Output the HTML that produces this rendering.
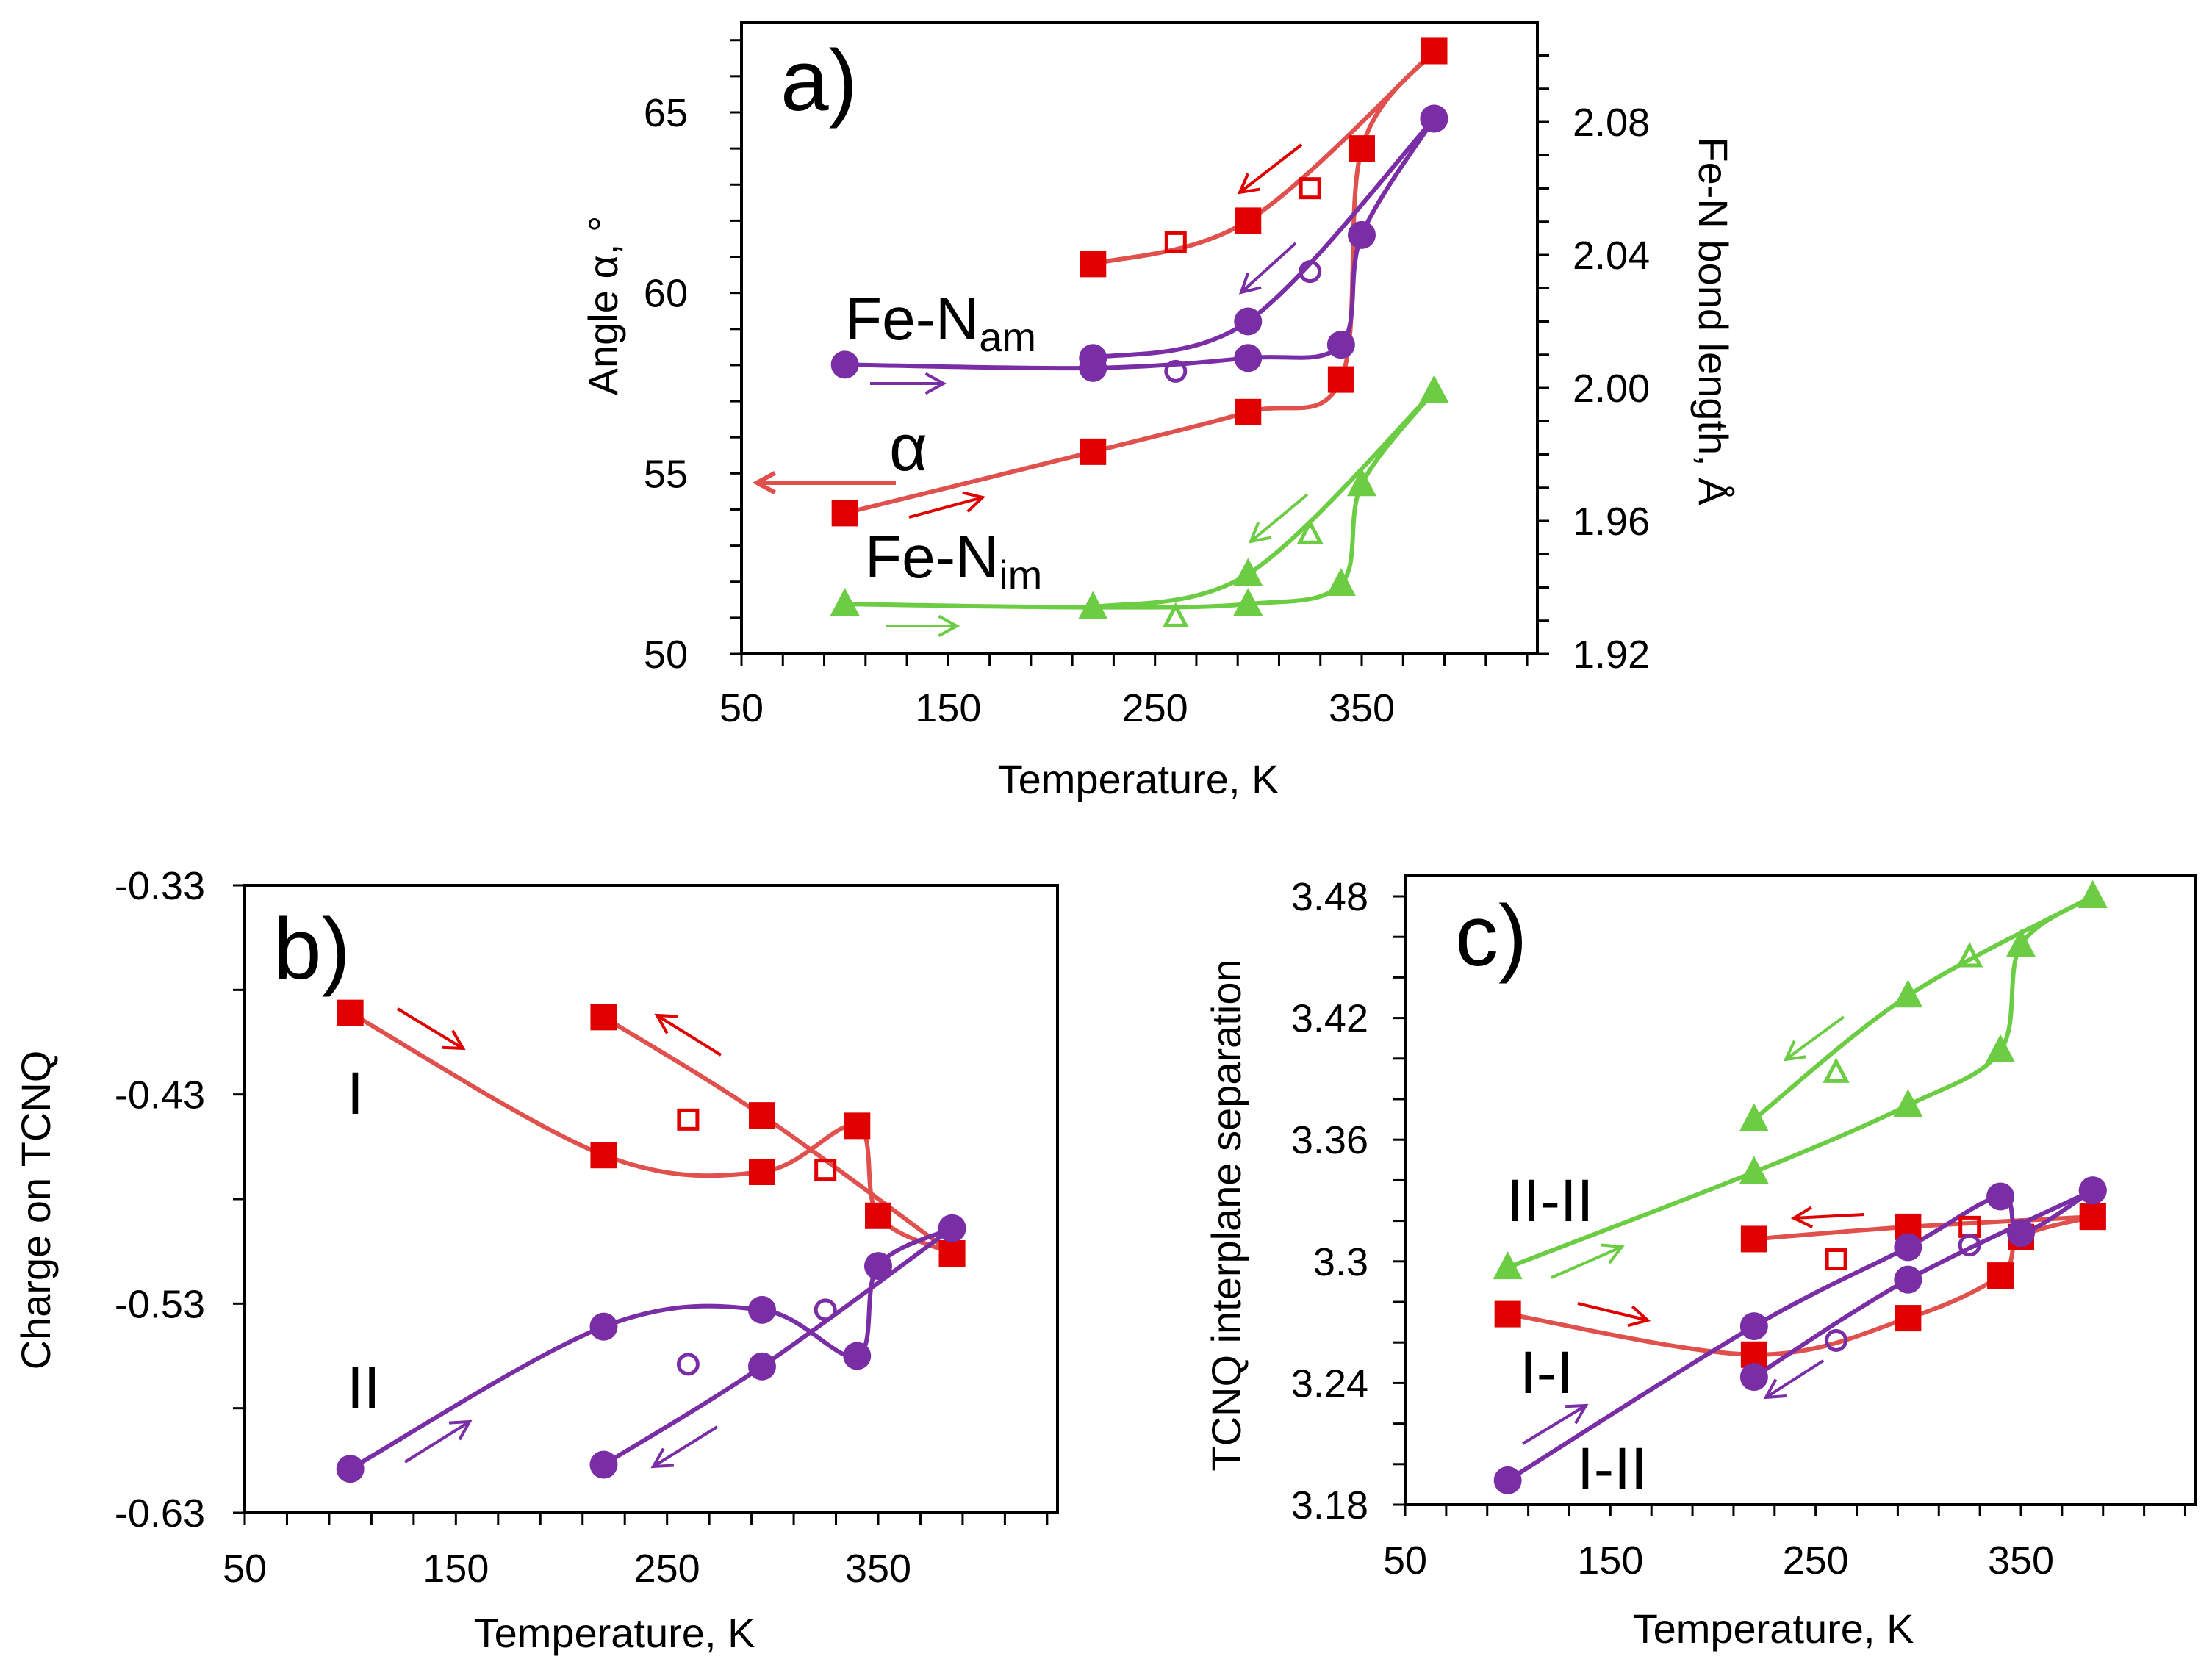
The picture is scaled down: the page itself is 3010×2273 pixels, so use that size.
<!DOCTYPE html>
<html><head><meta charset="utf-8">
<style>
html,body{margin:0;padding:0;background:#fff;}
svg{display:block;font-family:"Liberation Sans",Arial,sans-serif;}
</style></head>
<body>
<svg id="fig" width="3010" height="2273" viewBox="0 0 3010 2273" xmlns="http://www.w3.org/2000/svg">
</svg>
<script>
// ---------- Panel a data ----------
const aT_heat = [100, 220, 295, 340, 350, 385];
const aT_cool = [385, 295, 220];
const aT_open = [260, 325];
const alphaHeat = [53.9, 55.6, 56.7, 57.6, 64.0, 66.7];
const alphaCool = [66.7, 62.0, 60.8];
const alphaOpen = [61.4, 62.9];
const amHeat = [2.007, 2.006, 2.009, 2.013, 2.046, 2.081];
const amCool = [2.081, 2.020, 2.009];
const amOpen = [2.005, 2.035];
const imHeat = [1.935, 1.934, 1.935, 1.941, 1.971, 1.999];
const imCool = [1.999, 1.944, 1.934];
const imOpen = [1.931, 1.956];
const aLeftTicks = [50, 55, 60, 65];
const aRightTicks = [1.92, 1.96, 2.00, 2.04, 2.08];
const xTicks = [50, 150, 250, 350];

// ---------- Panel b data ----------
const bT_heat = [100, 220, 295, 340, 350, 385];
const bT_cool = [385, 295, 220];
const bT_open = [260, 325];
const bIHeat = [-0.391, -0.459, -0.467, -0.445, -0.488, -0.506];
const bICool = [-0.506, -0.440, -0.393];
const bIOpen = [-0.442, -0.466];
const bIIHeat = [-0.609, -0.541, -0.533, -0.555, -0.512, -0.494];
const bIICool = [-0.494, -0.560, -0.607];
const bIIOpen = [-0.559, -0.533];
const bTicks = [-0.33, -0.43, -0.53, -0.63];

// ---------- Panel c data ----------
const cT_heat = [100, 220, 295, 340, 350, 385];
const cT_cool = [385, 295, 220];
const cT_open = [260, 325];
const cGHeat = [3.297, 3.344, 3.377, 3.404, 3.456, 3.48];
const cGCool = [3.48, 3.431, 3.370];
const cGOpen = [3.393, 3.450];
const cRHeat = [3.274, 3.254, 3.272, 3.293, 3.312, 3.322];
const cRCool = [3.322, 3.317, 3.311];
const cROpen = [3.301, 3.317];
const cPHeat = [3.192, 3.268, 3.307, 3.332, 3.314, 3.335];
const cPCool = [3.335, 3.291, 3.243];
const cPOpen = [3.261, 3.308];
const cTicks = [3.18, 3.24, 3.30, 3.36, 3.42, 3.48];
const cTickLabels = ["3.18", "3.24", "3.3", "3.36", "3.42", "3.48"];

const NS = "http://www.w3.org/2000/svg";
const svg = document.getElementById('fig');
const RED = "#e00000", REDL = "#e0504c", PUR = "#7a2ea6", GRN = "#6ccd45";
const TICKF = 54, TITLEF = 56, LABF = 82, PANF = 118;

function mk(tag, attrs, parent) {
  const e = document.createElementNS(NS, tag);
  for (const k in attrs) e.setAttribute(k, attrs[k]);
  (parent || svg).appendChild(e);
  return e;
}
function lin(d0, d1, p0, p1) { return v => p0 + (v - d0) / (d1 - d0) * (p1 - p0); }

function smooth(pts) {
  let d = "M" + pts[0][0] + "," + pts[0][1];
  for (let i = 0; i < pts.length - 1; i++) {
    const p0 = pts[i - 1] || pts[i], p1 = pts[i], p2 = pts[i + 1], p3 = pts[i + 2] || p2;
    const t = 6;
    const c1 = [p1[0] + (p2[0] - p0[0]) / t, p1[1] + (p2[1] - p0[1]) / t];
    const c2 = [p2[0] - (p3[0] - p1[0]) / t, p2[1] - (p3[1] - p1[1]) / t];
    d += " C" + c1[0] + "," + c1[1] + " " + c2[0] + "," + c2[1] + " " + p2[0] + "," + p2[1];
  }
  return d;
}
function curve(g, xs, ys, X, Y, color, name) {
  const p = mk('path', {d: smooth(xs.map((x, i) => [X(x), Y(ys[i])])), fill: 'none', stroke: color, 'stroke-width': 6}, g);
  
  
}
function markers(g, xs, ys, X, Y, shape, color, open, name) {
  xs.forEach((x, i) => {
    const cx = X(x), cy = Y(ys[i]);
    let e;
    const fill = open ? 'none' : color, sw = open ? 5 : 0;
    if (shape === 'sq') { const s = open ? 25 : 36; e = mk('rect', {x: cx - s / 2, y: cy - s / 2, width: s, height: s, fill: fill, stroke: color, 'stroke-width': sw}, g); }
    else if (shape === 'ci') { const r = open ? 13 : 19; e = mk('circle', {cx: cx, cy: cy, r: r, fill: fill, stroke: color, 'stroke-width': sw}, g); }
    else { const s = open ? 14 : 20; e = mk('polygon', {points: `${cx},${cy - s * 1.1} ${cx + s},${cy + s * 0.8} ${cx - s},${cy + s * 0.8}`, fill: fill, stroke: color, 'stroke-width': sw}, g); }
    
    
  });
}
function arrow(g, x1, y1, x2, y2, color, name, w) {
  w = w || 4;
  const a = Math.atan2(y2 - y1, x2 - x1), L = 28;
  const d = `M${x1},${y1} L${x2},${y2} M${x2 - L * Math.cos(a - 0.5)},${y2 - L * Math.sin(a - 0.5)} L${x2},${y2} L${x2 - L * Math.cos(a + 0.5)},${y2 - L * Math.sin(a + 0.5)}`;
  const e = mk('path', {d: d, fill: 'none', stroke: color, 'stroke-width': w}, g);
  
  
}
function text(g, x, y, s, size, anchor, name, extra) {
  const e = mk('text', Object.assign({x: x, y: y, 'font-size': size, 'text-anchor': anchor || 'start', fill: '#000'}, extra || {}), g);
  e.textContent = s;
  
  
  return e;
}
function frame(g, L, T, R, B) {
  const e = mk('rect', {x: L, y: T, width: R - L, height: B - T, fill: 'none', stroke: '#000', 'stroke-width': 4}, g);
  
  
}
function xAxis(g, X, B, labY, titleX, titleY) {
  for (let v = 50; v <= 430; v += 20) mk('line', {x1: X(v), y1: B, x2: X(v), y2: B + 16, stroke: '#000', 'stroke-width': 3}, g);
  xTicks.forEach(v => text(g, X(v), labY, String(v), TICKF, 'middle', 'x-tick-label'));
  text(g, titleX, titleY, 'Temperature, K', TITLEF, 'middle', 'x-axis-title');
}

// ===== Panel a =====
(function () {
  const g = mk('g', {});  
  const L = 1009, R = 2092, T = 30, B = 890;
  const X = lin(50, 350, 1009, 1853);
  const Y = lin(50, 65, 890, 153);
  const Y2 = lin(1.92, 2.08, 890, 166);
  frame(g, L, T, R, B);
  for (let v = 50; v <= 67; v += 1) mk('line', {x1: L - 16, y1: Y(v), x2: L, y2: Y(v), stroke: '#000', 'stroke-width': 3}, g);
  for (let v = 1.92; v <= 2.105; v += 0.01) mk('line', {x1: R, y1: Y2(v), x2: R + 16, y2: Y2(v), stroke: '#000', 'stroke-width': 3}, g);
  aLeftTicks.forEach(v => text(g, 936, Y(v) + 19, String(v), TICKF, 'end', 'y-tick-label'));
  aRightTicks.forEach(v => text(g, 2140, Y2(v) + 19, v.toFixed(2), TICKF, 'start', 'y2-tick-label'));
  xAxis(g, X, B, 982, 1549, 1080);
  text(g, 0, 0, 'Angle α, °', TITLEF, 'middle', 'y-axis-title', {transform: 'translate(840,416) rotate(-90)'});
  text(g, 0, 0, 'Fe-N bond length, Å', TITLEF, 'middle', 'y2-axis-title', {transform: 'translate(2312,437) rotate(90)'});

  curve(g, aT_heat, alphaHeat, X, Y, REDL, 'alpha-heating-curve');
  curve(g, aT_cool, alphaCool, X, Y, REDL, 'alpha-cooling-curve');
  curve(g, aT_heat, amHeat, X, Y2, PUR, 'fe-nam-heating-curve');
  curve(g, aT_cool, amCool, X, Y2, PUR, 'fe-nam-cooling-curve');
  curve(g, aT_heat, imHeat, X, Y2, GRN, 'fe-nim-heating-curve');
  curve(g, aT_cool, imCool, X, Y2, GRN, 'fe-nim-cooling-curve');
  markers(g, aT_heat, alphaHeat, X, Y, 'sq', RED, false, 'alpha-point');
  markers(g, aT_cool, alphaCool, X, Y, 'sq', RED, false, 'alpha-point');
  markers(g, aT_open, alphaOpen, X, Y, 'sq', RED, true, 'alpha-open-point');
  markers(g, aT_heat, amHeat, X, Y2, 'ci', PUR, false, 'fe-nam-point');
  markers(g, aT_cool, amCool, X, Y2, 'ci', PUR, false, 'fe-nam-point');
  markers(g, aT_open, amOpen, X, Y2, 'ci', PUR, true, 'fe-nam-open-point');
  markers(g, aT_heat, imHeat, X, Y2, 'tr', GRN, false, 'fe-nim-point');
  markers(g, aT_cool, imCool, X, Y2, 'tr', GRN, false, 'fe-nim-point');
  markers(g, aT_open, imOpen, X, Y2, 'tr', GRN, true, 'fe-nim-open-point');

  arrow(g, 1771, 197, 1687, 262, RED, 'alpha-cooling-arrow');
  arrow(g, 1763, 331, 1689, 398, PUR, 'fe-nam-cooling-arrow');
  arrow(g, 1184, 522, 1284, 522, PUR, 'fe-nam-heating-arrow');
  arrow(g, 1219, 657, 1030, 657, REDL, 'alpha-axis-arrow', 6);
  arrow(g, 1237, 704, 1337, 677, RED, 'alpha-heating-arrow');
  arrow(g, 1779, 673, 1702, 737, GRN, 'fe-nim-cooling-arrow');
  arrow(g, 1205, 852, 1302, 852, GRN, 'fe-nim-heating-arrow');

  text(g, 1062, 150, 'a)', PANF, 'start', 'panel-label-a');
  const t1 = text(g, 1150, 462, 'Fe-N', LABF, 'start', 'fe-nam-label');
  const s1 = mk('tspan', {'font-size': 56, dy: 16}, t1); s1.textContent = 'am';
  text(g, 1210, 640, 'α', 90, 'start', 'alpha-label');
  const t2 = text(g, 1177, 786, 'Fe-N', LABF, 'start', 'fe-nim-label');
  const s2 = mk('tspan', {'font-size': 56, dy: 16}, t2); s2.textContent = 'im';
})();

// ===== Panel b =====
(function () {
  const g = mk('g', {});  
  const L = 333, R = 1439, T = 1205, B = 2059;
  const X = lin(50, 350, 333, 1195);
  const Y = lin(-0.33, -0.63, 1205, 2059);
  frame(g, L, T, R, B);
  for (let v = -0.33; v >= -0.631; v -= 0.05) mk('line', {x1: L - 16, y1: Y(v), x2: L, y2: Y(v), stroke: '#000', 'stroke-width': 3}, g);
  bTicks.forEach(v => text(g, 279, Y(v) + 19, v.toFixed(2), TICKF, 'end', 'y-tick-label'));
  xAxis(g, X, B, 2153, 836, 2242);
  text(g, 0, 0, 'Charge on TCNQ', TITLEF, 'middle', 'y-axis-title', {transform: 'translate(68,1647) rotate(-90)'});

  curve(g, bT_heat, bIHeat, X, Y, REDL, 'I-heating-curve');
  curve(g, bT_cool, bICool, X, Y, REDL, 'I-cooling-curve');
  curve(g, bT_heat, bIIHeat, X, Y, PUR, 'II-heating-curve');
  curve(g, bT_cool, bIICool, X, Y, PUR, 'II-cooling-curve');
  markers(g, bT_heat, bIHeat, X, Y, 'sq', RED, false, 'I-point');
  markers(g, bT_cool, bICool, X, Y, 'sq', RED, false, 'I-point');
  markers(g, bT_open, bIOpen, X, Y, 'sq', RED, true, 'I-open-point');
  markers(g, bT_heat, bIIHeat, X, Y, 'ci', PUR, false, 'II-point');
  markers(g, bT_cool, bIICool, X, Y, 'ci', PUR, false, 'II-point');
  markers(g, bT_open, bIIOpen, X, Y, 'ci', PUR, true, 'II-open-point');

  arrow(g, 541, 1373, 630, 1427, RED, 'I-heating-arrow');
  arrow(g, 981, 1436, 894, 1382, RED, 'I-cooling-arrow');
  arrow(g, 551, 1990, 639, 1935, PUR, 'II-heating-arrow');
  arrow(g, 976, 1942, 889, 1996, PUR, 'II-cooling-arrow');

  text(g, 372, 1332, 'b)', PANF, 'start', 'panel-label-b');
  text(g, 472, 1516, 'I', LABF, 'start', 'series-I-label');
  text(g, 472, 1917, 'II', LABF, 'start', 'series-II-label');
})();

// ===== Panel c =====
(function () {
  const g = mk('g', {});  
  const L = 1912, R = 2988, T = 1192, B = 2048;
  const X = lin(50, 350, 1912, 2750);
  const Y = lin(3.18, 3.48, 2048, 1220);
  frame(g, L, T, R, B);
  for (let v = 3.18; v <= 3.485; v += 0.02) mk('line', {x1: L - 16, y1: Y(v), x2: L, y2: Y(v), stroke: '#000', 'stroke-width': 3}, g);
  cTicks.forEach((v, i) => text(g, 1862, Y(v) + 19, cTickLabels[i], TICKF, 'end', 'y-tick-label'));
  xAxis(g, X, B, 2142, 2413, 2236);
  text(g, 0, 0, 'TCNQ interplane separation', TITLEF, 'middle', 'y-axis-title', {transform: 'translate(1688,1654) rotate(-90)'});

  curve(g, cT_heat, cGHeat, X, Y, GRN, 'II-II-heating-curve');
  curve(g, cT_cool, cGCool, X, Y, GRN, 'II-II-cooling-curve');
  curve(g, cT_heat, cRHeat, X, Y, REDL, 'I-I-heating-curve');
  curve(g, cT_cool, cRCool, X, Y, REDL, 'I-I-cooling-curve');
  curve(g, cT_heat, cPHeat, X, Y, PUR, 'I-II-heating-curve');
  curve(g, cT_cool, cPCool, X, Y, PUR, 'I-II-cooling-curve');
  markers(g, cT_heat, cGHeat, X, Y, 'tr', GRN, false, 'II-II-point');
  markers(g, cT_cool, cGCool, X, Y, 'tr', GRN, false, 'II-II-point');
  markers(g, cT_open, cGOpen, X, Y, 'tr', GRN, true, 'II-II-open-point');
  markers(g, cT_heat, cRHeat, X, Y, 'sq', RED, false, 'I-I-point');
  markers(g, cT_cool, cRCool, X, Y, 'sq', RED, false, 'I-I-point');
  markers(g, cT_open, cROpen, X, Y, 'sq', RED, true, 'I-I-open-point');
  markers(g, cT_heat, cPHeat, X, Y, 'ci', PUR, false, 'I-II-point');
  markers(g, cT_cool, cPCool, X, Y, 'ci', PUR, false, 'I-II-point');
  markers(g, cT_open, cPOpen, X, Y, 'ci', PUR, true, 'I-II-open-point');

  arrow(g, 2509, 1384, 2430, 1442, GRN, 'II-II-cooling-arrow');
  arrow(g, 2111, 1739, 2207, 1697, GRN, 'II-II-heating-arrow');
  arrow(g, 2537, 1653, 2441, 1658, RED, 'I-I-cooling-arrow');
  arrow(g, 2147, 1774, 2242, 1797, RED, 'I-I-heating-arrow');
  arrow(g, 2072, 1965, 2158, 1913, PUR, 'I-II-heating-arrow');
  arrow(g, 2481, 1852, 2403, 1902, PUR, 'I-II-cooling-arrow');

  text(g, 1980, 1314, 'c)', PANF, 'start', 'panel-label-c');
  text(g, 2050, 1662, 'II-II', LABF, 'start', 'II-II-label');
  text(g, 2068, 1896, 'I-I', LABF, 'start', 'I-I-label');
  text(g, 2146, 2027, 'I-II', LABF, 'start', 'I-II-label');
})();
</script>
</body></html>
